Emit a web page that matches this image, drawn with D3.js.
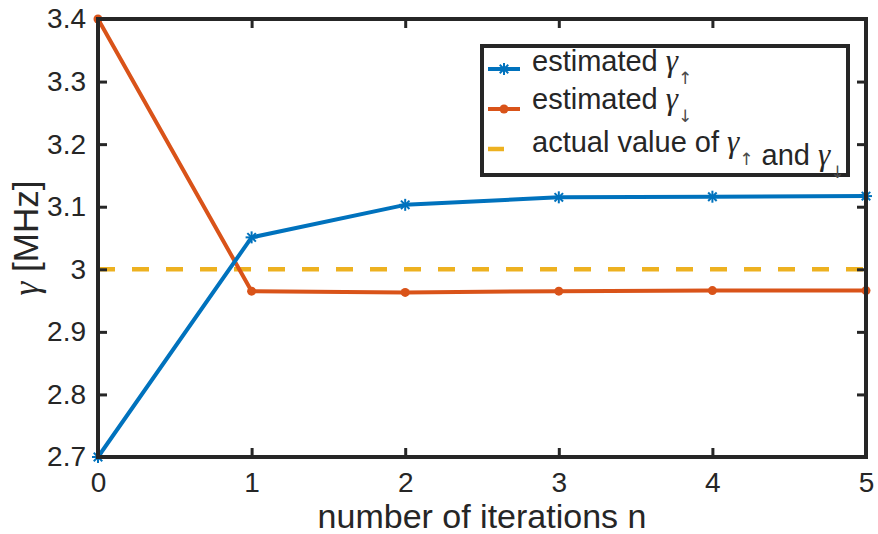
<!DOCTYPE html>
<html>
<head>
<meta charset="utf-8">
<script src="https://cdn.jsdelivr.net/npm/d3@7"></script>
<style>
  html, body { margin: 0; padding: 0; background: #fff; }
  svg text { font-family: "Liberation Sans", Arial, Helvetica, sans-serif; fill: #262626; }
  .greek { font-family: "Liberation Serif", "DejaVu Serif", serif; font-style: italic; }
  .arrow { font-family: "DejaVu Sans", sans-serif; fill: #4a4a4a; }
</style>
</head>
<body>
<svg id="chart" width="878" height="534"></svg>
<script>
// iteration index
const iterations = [0, 1, 2, 3, 4, 5];
// estimated decay rates per iteration [MHz]
const gammaUp   = [2.700, 3.051, 3.103, 3.115, 3.116, 3.117];
const gammaDown = [3.400, 2.965, 2.963, 2.965, 2.966, 2.966];
// true value used in the simulation [MHz]
const actualGamma = 3.0;
// tick values and labels
const xTicks = [0, 1, 2, 3, 4, 5];
const yTicks = [2.7, 2.8, 2.9, 3.0, 3.1, 3.2, 3.3, 3.4];
const yTickLabels = ["2.7", "2.8", "2.9", "3", "3.1", "3.2", "3.3", "3.4"];

const colors = { up: "#0072BD", down: "#D95319", actual: "#EDB120", axis: "#262626" };

const svg = d3.select("#chart");
const plot = { left: 98, right: 866, top: 19, bottom: 457 };

const x = d3.scaleLinear().domain([0, 5]).range([plot.left, plot.right]);
const y = d3.scaleLinear().domain([2.7, 3.4]).range([plot.bottom, plot.top]);

// horizontal reference line for the actual value
svg.append("line")
  .attr("x1", x(0)).attr("x2", x(5))
  .attr("y1", y(actualGamma)).attr("y2", y(actualGamma))
  .attr("stroke", colors.actual).attr("stroke-width", 4.5)
  .attr("stroke-dasharray", "17,17");

const line = d3.line().x((d, i) => x(iterations[i])).y(d => y(d));

function starMarker(g, cx, cy, r, color) {
  [0, 45, 90, 135].forEach(a => {
    const rad = a * Math.PI / 180;
    g.append("line")
      .attr("x1", cx - r * Math.cos(rad)).attr("y1", cy - r * Math.sin(rad))
      .attr("x2", cx + r * Math.cos(rad)).attr("y2", cy + r * Math.sin(rad))
      .attr("stroke", color).attr("stroke-width", 2);
  });
}

// estimated gamma_down (orange, dot markers)
svg.append("path").datum(gammaDown)
  .attr("d", line).attr("fill", "none")
  .attr("stroke", colors.down).attr("stroke-width", 4)
  .attr("stroke-linejoin", "round");
svg.append("g").selectAll("circle").data(gammaDown).join("circle")
  .attr("cx", (d, i) => x(iterations[i])).attr("cy", d => y(d))
  .attr("r", 4.5).attr("fill", colors.down);

// estimated gamma_up (blue, star markers)
svg.append("path").datum(gammaUp)
  .attr("d", line).attr("fill", "none")
  .attr("stroke", colors.up).attr("stroke-width", 4)
  .attr("stroke-linejoin", "round");
const upMarks = svg.append("g");
gammaUp.forEach((d, i) => starMarker(upMarks, x(iterations[i]), y(d), 6, colors.up));

// axes box with inward ticks on all sides
const axisG = svg.append("g");
const tickLen = 9;

const bottomAxis = d3.axisBottom(x).tickValues(xTicks).tickFormat(d3.format("d"))
  .tickSizeInner(-tickLen).tickSizeOuter(0).tickPadding(15);
const gB = axisG.append("g").attr("transform", `translate(0,${plot.bottom})`).call(bottomAxis);
gB.select(".domain").remove();
gB.selectAll("line").attr("stroke", colors.axis).attr("stroke-width", 3);
gB.selectAll("text").attr("font-size", 28).attr("fill", colors.axis)
  .attr("font-family", "Liberation Sans, Arial, sans-serif").attr("dy", "0.72em");

const topAxis = d3.axisTop(x).tickValues(xTicks).tickFormat("")
  .tickSizeInner(-tickLen).tickSizeOuter(0);
const gT = axisG.append("g").attr("transform", `translate(0,${plot.top})`).call(topAxis);
gT.select(".domain").remove();
gT.selectAll("line").attr("stroke", colors.axis).attr("stroke-width", 3);

const leftAxis = d3.axisLeft(y).tickValues(yTicks).tickFormat((d, i) => yTickLabels[i])
  .tickSizeInner(-tickLen).tickSizeOuter(0).tickPadding(12);
const gL = axisG.append("g").attr("transform", `translate(${plot.left},0)`).call(leftAxis);
gL.select(".domain").remove();
gL.selectAll("line").attr("stroke", colors.axis).attr("stroke-width", 3);
gL.selectAll("text").attr("font-size", 28).attr("fill", colors.axis)
  .attr("font-family", "Liberation Sans, Arial, sans-serif");

const rightAxis = d3.axisRight(y).tickValues(yTicks).tickFormat("")
  .tickSizeInner(-tickLen).tickSizeOuter(0);
const gR = axisG.append("g").attr("transform", `translate(${plot.right},0)`).call(rightAxis);
gR.select(".domain").remove();
gR.selectAll("line").attr("stroke", colors.axis).attr("stroke-width", 3);

axisG.append("rect")
  .attr("x", plot.left).attr("y", plot.top)
  .attr("width", plot.right - plot.left).attr("height", plot.bottom - plot.top)
  .attr("fill", "none").attr("stroke", colors.axis).attr("stroke-width", 4);

// axis labels
svg.append("text")
  .attr("x", (plot.left + plot.right) / 2).attr("y", 528)
  .attr("text-anchor", "middle").attr("font-size", 34)
  .text("number of iterations n");

const yl = svg.append("text")
  .attr("transform", `translate(38,${(plot.top + plot.bottom) / 2}) rotate(-90)`)
  .attr("text-anchor", "middle").attr("font-size", 35);
yl.append("tspan").attr("class", "greek").text("γ");
yl.append("tspan").text(" [MHz]");

// legend
const legend = svg.append("g");
legend.append("rect")
  .attr("x", 482).attr("y", 46).attr("width", 366).attr("height", 129)
  .attr("fill", "#fff").attr("stroke", colors.axis).attr("stroke-width", 4);

function gammaLabel(prefix, parts, baseline) {
  const t = legend.append("text").attr("x", 532).attr("y", baseline).attr("font-size", 29);
  t.append("tspan").text(prefix);
  parts.forEach(p => {
    if (p.plain) { t.append("tspan").text(p.plain); return; }
    t.append("tspan").attr("class", "greek").attr("font-size", 31).text("γ");
    t.append("tspan").attr("class", "arrow").attr("font-size", 17).attr("dy", 13).text(p.arrow);
    t.append("tspan").attr("dy", -13).text("");
  });
  return t;
}

const rows = [
  { y: 69, color: colors.up, kind: "star" },
  { y: 109, color: colors.down, kind: "dot" },
  { y: 149, color: colors.actual, kind: "dash" }
];
rows.forEach(r => {
  if (r.kind === "dash") {
    legend.append("line").attr("x1", 488).attr("x2", 504).attr("y1", r.y).attr("y2", r.y)
      .attr("stroke", r.color).attr("stroke-width", 4.5);
  } else {
    legend.append("line").attr("x1", 488).attr("x2", 520).attr("y1", r.y).attr("y2", r.y)
      .attr("stroke", r.color).attr("stroke-width", 4);
    if (r.kind === "star") starMarker(legend, 504, r.y, 6, r.color);
    else legend.append("circle").attr("cx", 504).attr("cy", r.y).attr("r", 4.5).attr("fill", r.color);
  }
});

gammaLabel("estimated ", [{ arrow: "↑" }], 71);
gammaLabel("estimated ", [{ arrow: "↓" }], 109);
gammaLabel("actual value of ", [{ arrow: "↑" }, { plain: " and " }, { arrow: "↓" }], 152);
</script>
</body>
</html>
